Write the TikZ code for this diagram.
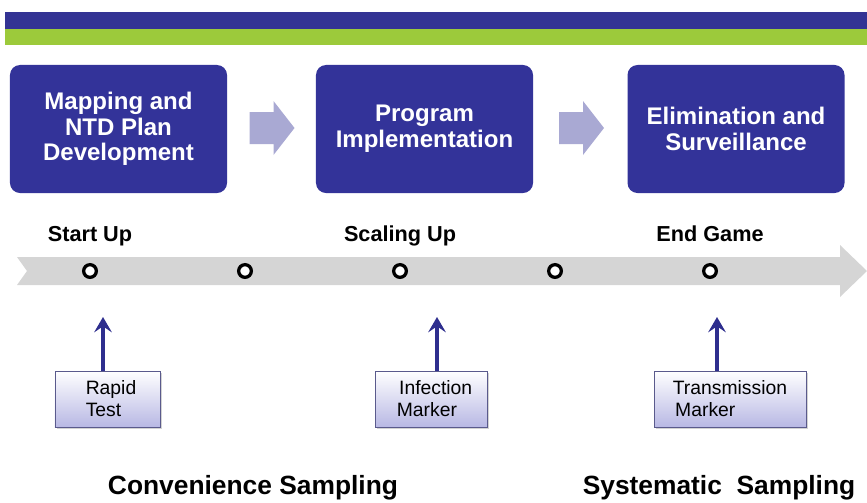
\documentclass[tikz,border=0pt]{standalone}
\usepackage{fontspec}
\setmainfont{Liberation Sans}
\usetikzlibrary{arrows.meta,positioning,shadows}
\definecolor{navy}{HTML}{333394}
\definecolor{lime}{HTML}{9CCA3B}
\definecolor{stage}{HTML}{333399}
\definecolor{chev}{HTML}{A9A9D3}
\definecolor{track}{HTML}{D5D5D5}
\definecolor{tagline}{HTML}{5A5A8C}
\definecolor{tagfill}{HTML}{B8B8E4}
\definecolor{pointer}{HTML}{2E2E8E}
\newcommand{\chevron}[1]{\fill[chev,shift={(#1)}] (-22,-16) -- (2,-16) -- (2,-27) -- (23,0) -- (2,27) -- (2,16) -- (-22,16) -- cycle;}

\begin{document}
\begin{tikzpicture}[x=0.03cm,y=-0.03cm,>={Stealth[length=13pt,width=15pt,inset=5pt]},
    stagebox/.style={fill=stage,rounded corners=0.3cm,minimum width=6.51cm,minimum height=3.84cm,align=center,text=white,font=\fontsize{20.5}{22}\selectfont\bfseries},
    phase/.style={anchor=base,font=\fontsize{18.5}{20}\selectfont\bfseries},
    dot/.style={circle,draw=black,line width=2.8pt,fill=white,inner sep=0pt,minimum size=0.38cm},
    tag/.style={draw=tagline,thin,top color=white,bottom color=tagfill,align=left,minimum height=1.68cm,font=\fontsize{16.5}{18.7}\selectfont,drop shadow={shadow xshift=1.5pt,shadow yshift=-1.5pt,opacity=.35}},
    up/.style={->,draw=pointer,line width=3.4pt},
    sampling/.style={font=\fontsize{22.5}{24}\selectfont\bfseries}]
  \useasboundingbox (0,0) rectangle (867,502);
  \fill[navy] (5,12) rectangle (867,28.5);
  \fill[lime] (5,29) rectangle (867,44.5);

  \node[stagebox] (map) at (118.5,129) {Mapping and\\NTD Plan\\Development};
  \node[stagebox] (prog) at (424.5,129) {Program\\Implementation};
  \node[stagebox] (elim) at (736,129) {Elimination and\\Surveillance};
  \coordinate (c1) at (271.5,128);
  \coordinate (c2) at (581,128);
  \chevron{c1}
  \chevron{c2}

  \fill[track] (17,257) -- (840,257) -- (840,245) -- (867,271) -- (840,297) -- (840,285) -- (17,285) -- (27,271) -- cycle;
  \foreach \x [count=\i] in {90,245,400,555,710}
    \node[dot] (m\i) at (\x,271) {};
  \node[phase] (start) at (90,241) {Start Up};
  \node[phase] (scale) at (400,241) {Scaling Up};
  \node[phase] (end) at (710,241) {End Game};

  \node[tag,minimum width=3.15cm] (rapid) at (107.5,399) {\hspace*{6pt}Rapid\\\hspace*{6pt}Test};
  \node[tag,minimum width=3.36cm] (infect) at (431,399) {\hspace*{8pt}Infection\\\hspace*{6pt}Marker};
  \node[tag,minimum width=4.56cm] (trans) at (730,399) {Transmission\\\hspace*{2pt}Marker};
  \coordinate (p1) at (103,317);
  \coordinate (p2) at (437,317);
  \coordinate (p3) at (717,317);
  \draw[up] (rapid.north -| p1) -- (p1);
  \draw[up] (infect.north -| p2) -- (p2);
  \draw[up] (trans.north -| p3) -- (p3);

  \node[sampling] (conv) at (253,488) {Convenience Sampling};
  \node[sampling] (syst) at (719,488) {Systematic\ \ Sampling};
\end{tikzpicture}
\end{document}
